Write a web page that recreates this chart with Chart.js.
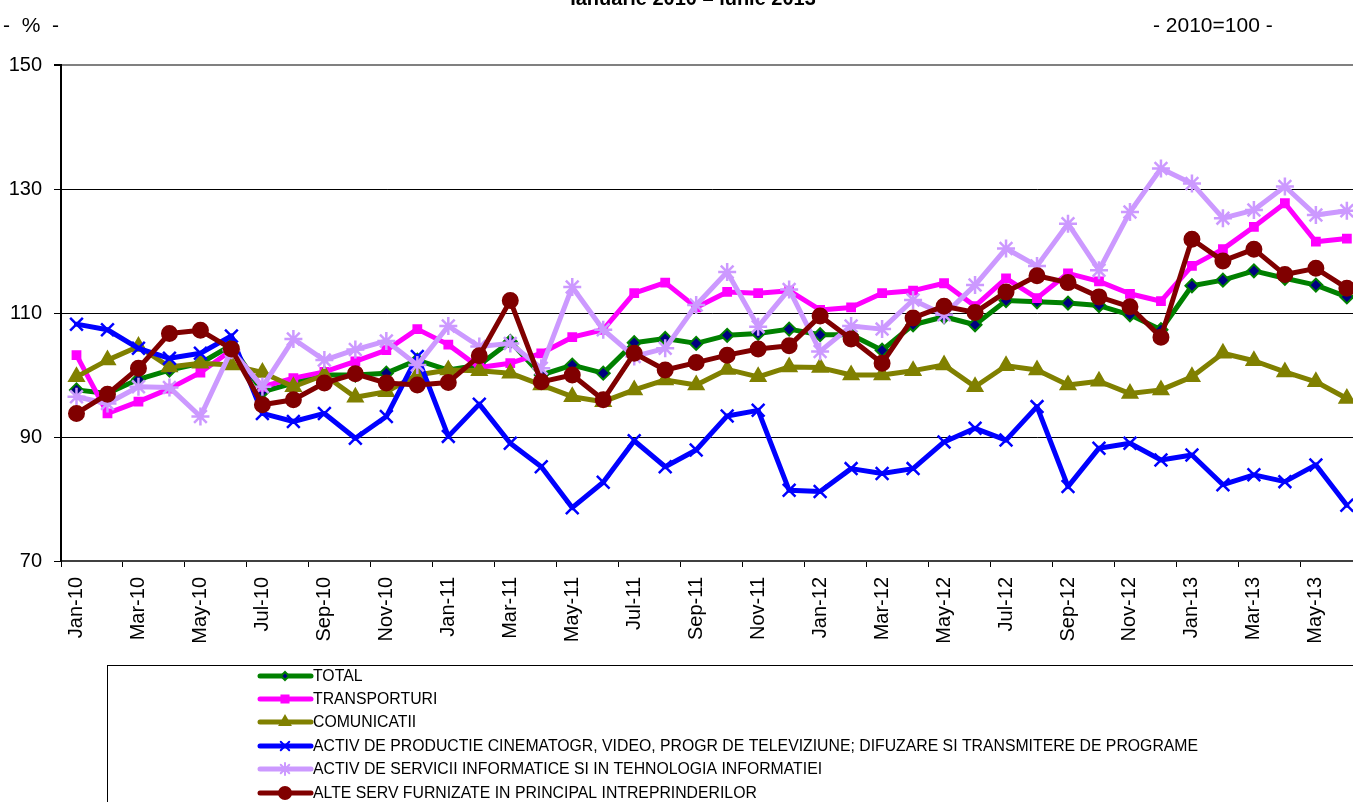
<!DOCTYPE html>
<html>
<head>
<meta charset="utf-8">
<title>Indici - servicii</title>
<script src="https://cdn.jsdelivr.net/npm/chart.js@4.4.1/dist/chart.umd.min.js"></script>
<style>
    html, body { margin: 0; padding: 0; background: #fff; overflow: hidden; }
    #wrap { position: relative; width: 1381px; height: 802px; }
</style>
</head>
<body>
<div id="wrap"><canvas id="indexChart" width="1381" height="802"></canvas></div>
<script>
// months, Jan 2010 - Jun 2013
const months = [
    'Jan-10', 'Feb-10', 'Mar-10', 'Apr-10', 'May-10', 'Jun-10', 'Jul-10', 'Aug-10', 'Sep-10', 'Oct-10', 'Nov-10', 'Dec-10',
    'Jan-11', 'Feb-11', 'Mar-11', 'Apr-11', 'May-11', 'Jun-11', 'Jul-11', 'Aug-11', 'Sep-11', 'Oct-11', 'Nov-11', 'Dec-11',
    'Jan-12', 'Feb-12', 'Mar-12', 'Apr-12', 'May-12', 'Jun-12', 'Jul-12', 'Aug-12', 'Sep-12', 'Oct-12', 'Nov-12', 'Dec-12',
    'Jan-13', 'Feb-13', 'Mar-13', 'Apr-13', 'May-13', 'Jun-13'
];

const yTicks = [70, 90, 110, 130, 150];

const total = [97.6, 97.0, 99.3, 100.8, 101.9, 104.8, 97.3, 98.7, 100.0, 100.0, 100.3, 102.4,
    100.8, 101.6, 105.4, 100.0, 101.6, 100.3, 105.2, 105.9, 105.1, 106.4, 106.7, 107.4,
    106.5, 106.5, 104.0, 108.1, 109.4, 108.1, 112.0, 111.8, 111.6, 111.2, 109.7, 107.3,
    114.4, 115.3, 116.8, 115.6, 114.5, 112.6];

const transporturi = [103.2, 93.8, 95.7, 97.8, 100.4, 104.0, 98.1, 99.5, 100.5, 102.2, 104.0, 107.4,
    104.9, 101.2, 101.9, 103.5, 106.1, 107.3, 113.2, 114.9, 110.9, 113.4, 113.2, 113.6,
    110.5, 110.9, 113.2, 113.6, 114.8, 111.1, 115.6, 112.4, 116.4, 115.1, 113.1, 111.9,
    117.6, 120.3, 123.9, 127.7, 121.5, 122.0];

const comunicatii = [99.7, 102.4, 104.6, 101.3, 101.9, 101.6, 100.4, 98.1, 100.0, 96.4, 97.3, 100.0,
    100.8, 100.7, 100.3, 98.4, 96.5, 95.7, 97.6, 99.2, 98.4, 100.9, 99.7, 101.3,
    101.2, 100.0, 100.0, 100.7, 101.6, 98.1, 101.5, 100.8, 98.4, 99.0, 97.0, 97.6,
    99.7, 103.5, 102.3, 100.5, 98.9, 96.2];

const cinema = [108.2, 107.3, 104.3, 102.7, 103.5, 106.3, 93.8, 92.5, 93.8, 89.8, 93.3, 103.0,
    90.1, 95.3, 89.0, 85.2, 78.6, 82.7, 89.4, 85.2, 87.9, 93.4, 94.3, 81.4,
    81.2, 84.9, 84.1, 84.9, 89.2, 91.4, 89.5, 94.9, 82.0, 88.2, 89.0, 86.3,
    87.1, 82.3, 83.9, 82.8, 85.5, 79.0];

const informatice = [96.5, 95.4, 98.1, 98.0, 93.3, 104.0, 98.1, 105.8, 102.4, 104.1, 105.5, 101.6,
    107.9, 104.6, 105.1, 101.1, 114.2, 107.3, 103.0, 104.3, 111.3, 116.6, 107.8, 113.8,
    103.8, 107.9, 107.4, 112.1, 109.7, 114.5, 120.4, 117.6, 124.4, 116.9, 126.3, 133.3,
    130.9, 125.3, 126.6, 130.4, 125.8, 126.5];

const alteServ = [93.8, 96.9, 101.1, 106.7, 107.2, 104.2, 95.2, 96.0, 98.7, 100.2, 98.7, 98.4,
    98.8, 103.1, 112.0, 98.9, 100.0, 96.0, 103.5, 100.8, 102.0, 103.2, 104.2, 104.7,
    109.5, 105.8, 101.9, 109.2, 111.1, 110.1, 113.4, 116.0, 114.9, 112.6, 111.0, 106.1,
    121.9, 118.4, 120.3, 116.2, 117.2, 114.0];

const seriesNames = [
    'TOTAL',
    'TRANSPORTURI',
    'COMUNICATII',
    'ACTIV DE PRODUCTIE CINEMATOGR, VIDEO, PROGR DE TELEVIZIUNE; DIFUZARE SI TRANSMITERE DE PROGRAME',
    'ACTIV DE SERVICII INFORMATICE SI IN TEHNOLOGIA INFORMATIEI',
    'ALTE SERV FURNIZATE IN PRINCIPAL INTREPRINDERILOR'
];

const FONT = '"Liberation Sans", Arial, sans-serif';
Chart.defaults.font.family = FONT;
Chart.defaults.color = '#000';

function makeSeries(idx, data, color, style, fill, radius, pointBorder, pointWidth) {
    return {
        label: seriesNames[idx],
        data: data,
        borderColor: color,
        backgroundColor: fill,
        borderWidth: 5,
        borderJoinStyle: 'round',
        borderCapStyle: 'round',
        tension: 0,
        pointStyle: style,
        pointRadius: radius,
        pointHoverRadius: radius,
        pointBackgroundColor: fill,
        pointBorderColor: pointBorder,
        pointBorderWidth: pointWidth,
        order: 5 - idx // later series drawn on top, like the original
    };
}

const datasets = [
    makeSeries(0, total, '#008000', 'rectRot', '#000080', 6.5, '#008000', 2),
    makeSeries(1, transporturi, '#FF00FF', 'rect', '#FF00FF', 5.5, '#FF00FF', 2),
    makeSeries(2, comunicatii, '#808000', 'triangle', '#808000', 8.5, '#808000', 2),
    makeSeries(3, cinema, '#0000FF', 'crossRot', '#0000FF', 9, '#0000FF', 2.5),
    makeSeries(4, informatice, '#CC99FF', 'star', '#CC99FF', 9, '#CC99FF', 2.5),
    makeSeries(5, alteServ, '#800000', 'circle', '#800000', 7.5, '#800000', 2)
];

// titles and the boxed legend under the axis
const extrasPlugin = {
    id: 'extras',
    afterDraw(chart) {
        const ctx = chart.ctx;
        ctx.save();
        ctx.fillStyle = '#000';
        ctx.textBaseline = 'alphabetic';
        ctx.font = 'bold 20px ' + FONT;
        ctx.textAlign = 'center';
        ctx.fillText('Ianuarie 2010 \u2013 iunie 2013', 693, 5);

        ctx.font = '21px ' + FONT;
        ctx.textAlign = 'left';
        ctx.fillText('-  %  -', 3, 32);
        ctx.fillText('- 2010=100 -', 1153, 32);

        // legend box
        ctx.strokeStyle = '#000';
        ctx.lineWidth = 1;
        ctx.strokeRect(107.5, 665.5, 1400, 300);

        const rowY = [676, 699, 722, 746, 769, 793];
        const legendR = [4, 5, 6, 6, 6, 6];
        chart.data.datasets.forEach((ds, i) => {
            const y = rowY[i];
            ctx.strokeStyle = ds.borderColor;
            ctx.lineWidth = 5;
            ctx.lineCap = 'round';
            ctx.beginPath();
            ctx.moveTo(260, y);
            ctx.lineTo(311, y);
            ctx.stroke();
            ctx.fillStyle = ds.pointBackgroundColor;
            ctx.strokeStyle = ds.pointBorderColor;
            ctx.lineWidth = 2;
            Chart.helpers.drawPoint(ctx, {pointStyle: ds.pointStyle, radius: legendR[i], borderWidth: 2}, 285, y);

            ctx.fillStyle = '#000';
            ctx.font = '15.8px ' + FONT;
            ctx.textBaseline = 'middle';
            ctx.textAlign = 'left';
            ctx.fillText(ds.label, 313, y + 1);
        });
        ctx.restore();
    }
};

const chart = new Chart(document.getElementById('indexChart'), {
    type: 'line',
    data: {
        labels: months,
        datasets: datasets
    },
    options: {
        responsive: false,
        animation: false,
        layout: {
            padding: {top: 65, left: 0, right: 0, bottom: 0}
        },
        plugins: {
            legend: {display: false},
            tooltip: {enabled: false}
        },
        scales: {
            x: {
                type: 'category',
                offset: true,
                afterFit: (scale) => { scale.height = 241; },
                grid: {
                    offset: true,
                    drawOnChartArea: false,
                    tickLength: 6,
                    tickColor: (c) => (c.index % 2 === 0 ? '#000' : 'rgba(0,0,0,0)')
                },
                border: {color: '#404040', width: 2},
                ticks: {
                    autoSkip: false,
                    minRotation: 90,
                    maxRotation: 90,
                    padding: 10,
                    font: {size: 20},
                    color: '#000',
                    callback: function (value, index) {
                        return index % 2 === 0 ? months[index] : '';
                    }
                }
            },
            y: {
                min: yTicks[0],
                max: yTicks[yTicks.length - 1],
                afterFit: (scale) => { scale.width = 61; },
                afterBuildTicks: (scale) => { scale.ticks = yTicks.map(v => ({value: v})); },
                grid: {
                    color: (c) => (c.tick && c.tick.value === 150 ? '#808080' : '#000'),
                    lineWidth: (c) => (c.tick && c.tick.value === 150 ? 2 : 1),
                    tickLength: 7,
                    tickColor: '#000'
                },
                border: {color: '#000', width: 2},
                ticks: {
                    padding: 12,
                    font: {size: 20},
                    color: '#000'
                }
            }
        }
    },
    plugins: [extrasPlugin]
});
</script>
</body>
</html>
